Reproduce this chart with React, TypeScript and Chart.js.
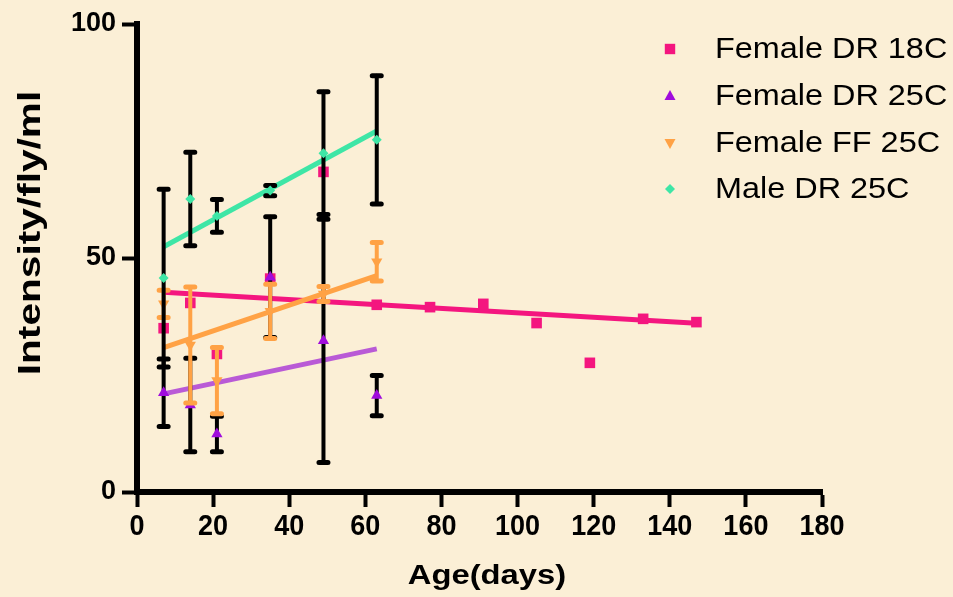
import React, { useEffect, useRef } from 'react';
import { Chart, registerables } from 'chart.js';

Chart.register(...registerables);

const FONT = '"Liberation Sans", Arial, Helvetica, sans-serif';

// Tick values
const xTicks = [0, 20, 40, 60, 80, 100, 120, 140, 160, 180];
const yTicks = [0, 50, 100];

// Female DR 18C (no replicates, so no error bars)
const femaleDr18Days = [7, 14, 21, 35, 49, 63, 77, 91, 105, 119, 133, 147];
const femaleDr18Mean = [35.0, 40.4, 29.5, 45.6, 68.4, 40.0, 39.5, 40.2, 36.1, 27.6, 37.0, 36.3];

// Female DR 25C
const femaleDr25Days = [7, 14, 21, 35, 49, 63];
const femaleDr25Mean = [21.2, 18.6, 12.4, 45.9, 32.3, 20.6];
const femaleDr25Sem = [7.2, 10.0, 3.8, 12.9, 26.0, 4.3];

// Female FF 25C
const femaleFf25Days = [7, 14, 21, 35, 49, 63];
const femaleFf25Mean = [40.2, 31.4, 23.8, 38.6, 42.3, 49.2];
const femaleFf25Sem = [2.9, 12.4, 7.1, 5.8, 1.6, 4.1];

// Male DR 25C
const maleDr25Days = [7, 14, 21, 35, 49, 63];
const maleDr25Mean = [45.7, 62.6, 59.0, 64.4, 72.4, 75.25];
const maleDr25Sem = [19.0, 10.0, 3.5, 1.1, 13.1, 13.7];

const seriesLabels = ['Female DR 18C', 'Female DR 25C', 'Female FF 25C', 'Male DR 25C'];

type Pt = { x: number; y: number };

const toPoints = (xs: number[], ys: number[]): Pt[] => xs.map((x, i) => ({ x, y: ys[i] }));

// Least-squares line through the means, spanning the sampled days
function regression(xs: number[], ys: number[]): Pt[] {
  const n = xs.length;
  const mx = xs.reduce((a, b) => a + b, 0) / n;
  const my = ys.reduce((a, b) => a + b, 0) / n;
  let sxy = 0;
  let sxx = 0;
  for (let i = 0; i < n; i++) {
    sxy += (xs[i] - mx) * (ys[i] - my);
    sxx += (xs[i] - mx) ** 2;
  }
  const slope = sxy / sxx;
  const x0 = Math.min(...xs);
  const x1 = Math.max(...xs);
  return [
    { x: x0, y: my + slope * (x0 - mx) },
    { x: x1, y: my + slope * (x1 - mx) },
  ];
}

type Series = {
  label: string;
  days: number[];
  mean: number[];
  sem: number[] | null;
  markerColor: string;
  lineColor: string;
  barColor: string;
  pointStyle: string;
  radius: number;
  rotation: number;
};

const series: Series[] = [
  {
    label: seriesLabels[0], days: femaleDr18Days, mean: femaleDr18Mean, sem: null,
    markerColor: '#F4167F', lineColor: '#F4167F', barColor: '#000000',
    pointStyle: 'rect', radius: 7.5, rotation: 0,
  },
  {
    label: seriesLabels[1], days: femaleDr25Days, mean: femaleDr25Mean, sem: femaleDr25Sem,
    markerColor: '#A00CDC', lineColor: '#B95AD6', barColor: '#000000',
    pointStyle: 'triangle', radius: 6.5, rotation: 0,
  },
  {
    label: seriesLabels[2], days: femaleFf25Days, mean: femaleFf25Mean, sem: femaleFf25Sem,
    markerColor: '#FFA245', lineColor: '#FFA245', barColor: '#FFA245',
    pointStyle: 'triangle', radius: 6.5, rotation: 180,
  },
  {
    label: seriesLabels[3], days: maleDr25Days, mean: maleDr25Mean, sem: maleDr25Sem,
    markerColor: '#3EE6A6', lineColor: '#3EE6A6', barColor: '#000000',
    pointStyle: 'rectRot', radius: 5, rotation: 0,
  },
];

export default function App() {
  const canvasRef = useRef<HTMLCanvasElement | null>(null);

  useEffect(() => {
    const canvas = canvasRef.current;
    if (!canvas) return;

    // Each series: fit line first, then its error bars, then its markers.
    // Later series are painted over earlier ones.
    const datasets: any[] = [];
    const barsForDataset: Record<number, Series> = {};
    const n = series.length;
    series.forEach((s, i) => {
      const baseOrder = (n - i) * 2;
      barsForDataset[datasets.length] = s;
      datasets.push({
        type: 'line',
        label: s.label + ' fit',
        data: regression(s.days, s.mean),
        borderColor: s.lineColor,
        borderWidth: 5,
        pointRadius: 0,
        fill: false,
        tension: 0,
        order: baseOrder,
      });
      datasets.push({
        type: 'scatter',
        label: s.label,
        data: toPoints(s.days, s.mean),
        backgroundColor: s.markerColor,
        borderColor: s.markerColor,
        borderWidth: 0,
        pointStyle: s.pointStyle,
        pointRadius: s.radius,
        rotation: s.rotation,
        order: baseOrder - 1,
      });
    });

    const background = {
      id: 'background',
      beforeDraw(chart: any) {
        const { ctx, width, height } = chart;
        ctx.save();
        ctx.fillStyle = '#FBEFD6';
        ctx.fillRect(0, 0, width, height);
        ctx.restore();
      },
    };

    const errorBars = {
      id: 'errorBars',
      afterDatasetDraw(chart: any, args: any) {
        const s = barsForDataset[args.index];
        if (!s || !s.sem) return;
        const { ctx, scales } = chart;
        const xs = scales.x;
        const ys = scales.y;
        ctx.save();
        ctx.strokeStyle = s.barColor;
        ctx.lineCap = 'round';
        s.days.forEach((d, i) => {
          const px = xs.getPixelForValue(d);
          const top = ys.getPixelForValue(s.mean[i] + s.sem![i]);
          const bot = ys.getPixelForValue(s.mean[i] - s.sem![i]);
          ctx.lineWidth = 4;
          ctx.beginPath();
          ctx.moveTo(px, top);
          ctx.lineTo(px, bot);
          ctx.stroke();
          ctx.lineWidth = 5;
          ctx.beginPath();
          ctx.moveTo(px - 4.5, top);
          ctx.lineTo(px + 4.5, top);
          ctx.moveTo(px - 4.5, bot);
          ctx.lineTo(px + 4.5, bot);
          ctx.stroke();
        });
        ctx.restore();
      },
    };

    const texts = {
      id: 'texts',
      afterDraw(chart: any) {
        const { ctx, scales } = chart;
        ctx.save();
        ctx.fillStyle = '#000';

        // x tick labels, slightly tall glyphs
        const xScale = scales.x;
        xTicks.forEach((v) => {
          ctx.save();
          ctx.translate(xScale.getPixelForValue(v), 526);
          ctx.scale(1, 1.12);
          ctx.font = `bold 27px ${FONT}`;
          ctx.textAlign = 'center';
          ctx.textBaseline = 'middle';
          ctx.fillText(String(v), 0, 1);
          ctx.restore();
        });

        // y title, rotated
        ctx.save();
        ctx.translate(31, 233);
        ctx.rotate(-Math.PI / 2);
        ctx.scale(1.27, 1);
        ctx.font = `bold 32px ${FONT}`;
        ctx.textAlign = 'center';
        ctx.textBaseline = 'middle';
        ctx.fillText('Intensity/fly/ml', 0, 0);
        ctx.restore();

        // x title
        ctx.save();
        ctx.translate(487, 576);
        ctx.scale(1.17, 1);
        ctx.font = `bold 28px ${FONT}`;
        ctx.textAlign = 'center';
        ctx.textBaseline = 'middle';
        ctx.fillText('Age(days)', 0, 0);
        ctx.restore();

        // legend
        const rowY = [49, 96, 143, 189];
        series.forEach((s, i) => {
          const y = rowY[i];
          const x = 670;
          ctx.fillStyle = s.markerColor;
          ctx.beginPath();
          if (s.pointStyle === 'rect') {
            ctx.rect(x - 5.2, y - 5.2, 10.4, 10.4);
          } else if (s.pointStyle === 'triangle' && s.rotation === 0) {
            ctx.moveTo(x, y - 6);
            ctx.lineTo(x + 5.5, y + 4);
            ctx.lineTo(x - 5.5, y + 4);
            ctx.closePath();
          } else if (s.pointStyle === 'triangle') {
            ctx.moveTo(x, y + 6);
            ctx.lineTo(x + 5.5, y - 4);
            ctx.lineTo(x - 5.5, y - 4);
            ctx.closePath();
          } else {
            ctx.moveTo(x, y - 5);
            ctx.lineTo(x + 5, y);
            ctx.lineTo(x, y + 5);
            ctx.lineTo(x - 5, y);
            ctx.closePath();
          }
          ctx.fill();

          ctx.save();
          ctx.fillStyle = '#000';
          ctx.translate(715, y);
          ctx.scale(1.08, 1);
          ctx.font = `30px ${FONT}`;
          ctx.textAlign = 'left';
          ctx.textBaseline = 'middle';
          ctx.fillText(s.label, 0, 1);
          ctx.restore();
        });
        ctx.restore();
      },
    };

    const chart = new Chart(canvas, {
      type: 'scatter',
      data: { datasets },
      options: {
        animation: false,
        responsive: true,
        maintainAspectRatio: false,
        layout: { padding: { top: 24, right: 131, bottom: 0, left: 0 } },
        plugins: {
          legend: { display: false },
          tooltip: { enabled: false },
          title: { display: false },
        },
        scales: {
          x: {
            type: 'linear',
            min: 0,
            max: 180,
            afterBuildTicks: (scale: any) => {
              scale.ticks = xTicks.map((v) => ({ value: v }));
            },
            afterFit: (scale: any) => {
              scale.height = 105;
            },
            ticks: { display: false },
            grid: {
              display: true,
              drawOnChartArea: false,
              drawTicks: true,
              tickLength: 15,
              tickWidth: 4,
              tickColor: '#000',
            },
            border: { display: true, width: 6, color: '#000' },
          },
          y: {
            type: 'linear',
            min: 0,
            max: 100,
            afterBuildTicks: (scale: any) => {
              scale.ticks = yTicks.map((v) => ({ value: v }));
            },
            afterFit: (scale: any) => {
              scale.width = 137;
            },
            ticks: {
              color: '#000',
              padding: 6,
              font: { family: FONT, size: 27, weight: 'bold' },
            },
            grid: {
              display: true,
              drawOnChartArea: false,
              drawTicks: true,
              tickLength: 15,
              tickWidth: 4,
              tickColor: '#000',
            },
            border: { display: true, width: 6, color: '#000' },
          },
        },
      },
      plugins: [background, errorBars, texts],
    } as any);

    return () => chart.destroy();
  }, []);

  return (
    <div style={{ position: 'fixed', left: 0, top: 0, width: 953, height: 597 }}>
      <canvas ref={canvasRef} />
    </div>
  );
}
